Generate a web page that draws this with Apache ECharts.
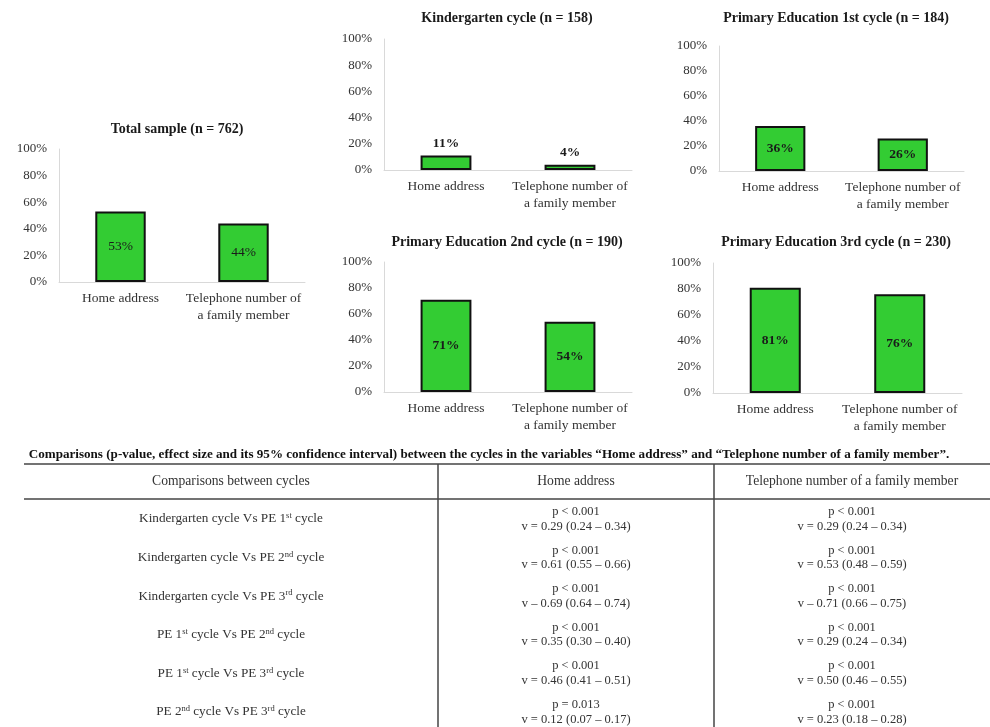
<!DOCTYPE html>
<html>
<head>
<meta charset="utf-8">
<script src="https://cdn.jsdelivr.net/npm/echarts@6/dist/echarts.min.js"></script>
<style>
  html, body { margin: 0; padding: 0; background: #fff; }
  #chart { width: 990px; height: 727px; }
</style>
</head>
<body>
<div id="chart"></div>
<script>
// ---- Chart data ----
const categories = ['Home address', 'Telephone number of\na family member'];
const panelTitles = [
  'Total sample (n = 762)',
  'Kindergarten cycle (n = 158)',
  'Primary Education 1st cycle (n = 184)',
  'Primary Education 2nd cycle (n = 190)',
  'Primary Education 3rd cycle (n = 230)'
];
const totalSample = [53, 44];
const kindergarten = [11, 4];
const pe1st = [36, 26];
const pe2nd = [71, 54];
const pe3rd = [81, 76];
const yTickMax = 100;
const yTickStep = 20;

// ---- Table data ----
const tableCaption = 'Comparisons (p-value, effect size and its 95% confidence interval) between the cycles in the variables \u201cHome address\u201d and \u201cTelephone number of a family member\u201d.';
const tableHeaders = ['Comparisons between cycles', 'Home address', 'Telephone number of a family member'];
const comparisonRows = [
  'Kindergarten cycle Vs PE 1{s|st} cycle',
  'Kindergarten cycle Vs PE 2{s|nd} cycle',
  'Kindergarten cycle Vs PE 3{s|rd} cycle',
  'PE 1{s|st} cycle Vs PE 2{s|nd} cycle',
  'PE 1{s|st} cycle Vs PE 3{s|rd} cycle',
  'PE 2{s|nd} cycle Vs PE 3{s|rd} cycle'
];
const homeP = ['p < 0.001', 'p < 0.001', 'p < 0.001', 'p < 0.001', 'p < 0.001', 'p = 0.013'];
const homeV = ['v = 0.29 (0.24 \u2013 0.34)', 'v = 0.61 (0.55 \u2013 0.66)', 'v \u2013 0.69 (0.64 \u2013 0.74)',
               'v = 0.35 (0.30 \u2013 0.40)', 'v = 0.46 (0.41 \u2013 0.51)', 'v = 0.12 (0.07 \u2013 0.17)'];
const phoneP = ['p < 0.001', 'p < 0.001', 'p < 0.001', 'p < 0.001', 'p < 0.001', 'p < 0.001'];
const phoneV = ['v = 0.29 (0.24 \u2013 0.34)', 'v = 0.53 (0.48 \u2013 0.59)', 'v \u2013 0.71 (0.66 \u2013 0.75)',
                'v = 0.29 (0.24 \u2013 0.34)', 'v = 0.50 (0.46 \u2013 0.55)', 'v = 0.23 (0.18 \u2013 0.28)'];

// ---- Layout ----
const FONT = '"Liberation Serif", "DejaVu Serif", serif';
const panels = [
  { data: totalSample,  grid: { left: 59,  top: 149, width: 246, height: 133 }, titleX: 177, titleY: 129, labelPos: 'inside', bold: false },
  { data: kindergarten, grid: { left: 384, top: 39,  width: 248, height: 131 }, titleX: 507, titleY: 18,  labelPos: 'top',    bold: true },
  { data: pe1st,        grid: { left: 719, top: 46,  width: 245, height: 125 }, titleX: 836, titleY: 18,  labelPos: 'inside', bold: true },
  { data: pe2nd,        grid: { left: 384, top: 262, width: 248, height: 130 }, titleX: 507, titleY: 242, labelPos: 'inside', bold: true },
  { data: pe3rd,        grid: { left: 713, top: 263, width: 249, height: 130 }, titleX: 836, titleY: 242, labelPos: 'inside', bold: true }
];

const axisColor = '#d9d9d9';
const textColor = '#333333';

const grids = [], xAxes = [], yAxes = [], series = [], titles = [];
panels.forEach((p, i) => {
  grids.push(Object.assign({ containLabel: false }, p.grid));
  titles.push({
    text: panelTitles[i],
    left: p.titleX, top: p.titleY,
    textAlign: 'center', textVerticalAlign: 'middle',
    padding: 0,
    textStyle: { fontFamily: FONT, fontSize: 14, fontWeight: 'bold', color: '#1a1a1a' }
  });
  xAxes.push({
    type: 'category', gridIndex: i, data: categories,
    axisLine: { show: true, lineStyle: { color: axisColor, width: 1 } },
    axisTick: { show: false },
    axisLabel: { fontFamily: FONT, fontSize: 13.5, color: textColor, margin: 8, lineHeight: 17, interval: 0 },
    splitLine: { show: false }
  });
  yAxes.push({
    type: 'value', gridIndex: i, min: 0, max: yTickMax, interval: yTickStep,
    axisLine: { show: true, lineStyle: { color: axisColor, width: 1 } },
    axisTick: { show: false },
    splitLine: { show: false },
    axisLabel: { fontFamily: FONT, fontSize: 13, color: textColor, margin: 12, formatter: '{value}%' }
  });
  series.push({
    type: 'bar', xAxisIndex: i, yAxisIndex: i, data: p.data,
    barWidth: '41%',
    itemStyle: { color: '#33CC33', borderColor: '#111111', borderWidth: 2 },
    label: {
      show: true, position: p.labelPos, distance: 5,
      formatter: '{c}%',
      fontFamily: FONT, fontSize: 13.5,
      fontWeight: p.bold ? 'bold' : 'normal',
      color: '#1a1a1a'
    },
    silent: true,
    animation: false
  });
});

// ---- Table graphics ----
const tableLeft = 24, tableRight = 990;
const colBounds = [24, 438, 714, 990];
const topRuleY = 464, headerRuleY = 499, tableBottom = 727;
const rowFirstY = 519, rowStep = 38.6;
const lineStroke = '#444444';
const tableTextColor = '#333333';
const headerFontSize = 13.6;
const rowFontSize = 13.2;
const statFontSize = 12.5;
const rich = {
  s: { fontSize: 8.5, verticalAlign: 'top', lineHeight: 15, fill: tableTextColor, fontFamily: FONT }
};

const graphic = [];
graphic.push({
  type: 'text', x: 489, y: 455,
  style: { text: tableCaption, font: 'bold 13.1px ' + FONT, fill: '#111', align: 'center', verticalAlign: 'middle' }
});
graphic.push({ type: 'line', shape: { x1: tableLeft, y1: topRuleY, x2: tableRight, y2: topRuleY }, style: { stroke: lineStroke, lineWidth: 1.5 } });
graphic.push({ type: 'line', shape: { x1: tableLeft, y1: headerRuleY, x2: tableRight, y2: headerRuleY }, style: { stroke: lineStroke, lineWidth: 1.5 } });
[colBounds[1], colBounds[2]].forEach(x => {
  graphic.push({ type: 'line', shape: { x1: x, y1: topRuleY, x2: x, y2: tableBottom }, style: { stroke: lineStroke, lineWidth: 1.5 } });
});
const colCenters = [0, 1, 2].map(c => (colBounds[c] + colBounds[c + 1]) / 2);
tableHeaders.forEach((h, c) => {
  graphic.push({
    type: 'text', x: colCenters[c], y: 481,
    style: { text: h, font: headerFontSize + 'px ' + FONT, fill: tableTextColor, align: 'center', verticalAlign: 'middle' }
  });
});
comparisonRows.forEach((r, i) => {
  const y = rowFirstY + i * rowStep;
  graphic.push({
    type: 'text', x: colCenters[0], y: y,
    style: { text: r, font: rowFontSize + 'px ' + FONT, fill: tableTextColor, align: 'center', verticalAlign: 'middle', lineHeight: 15, rich: rich }
  });
  graphic.push({
    type: 'text', x: colCenters[1], y: y,
    style: { text: homeP[i] + '\n' + homeV[i], font: statFontSize + 'px ' + FONT, fill: tableTextColor, align: 'center', verticalAlign: 'middle', lineHeight: 14.5 }
  });
  graphic.push({
    type: 'text', x: colCenters[2], y: y,
    style: { text: phoneP[i] + '\n' + phoneV[i], font: statFontSize + 'px ' + FONT, fill: tableTextColor, align: 'center', verticalAlign: 'middle', lineHeight: 14.5 }
  });
});

const chart = echarts.init(document.getElementById('chart'), null, { renderer: 'canvas' });
chart.setOption({
  backgroundColor: '#ffffff',
  animation: false,
  title: titles,
  grid: grids,
  xAxis: xAxes,
  yAxis: yAxes,
  series: series,
  graphic: graphic
});
</script>
</body>
</html>
